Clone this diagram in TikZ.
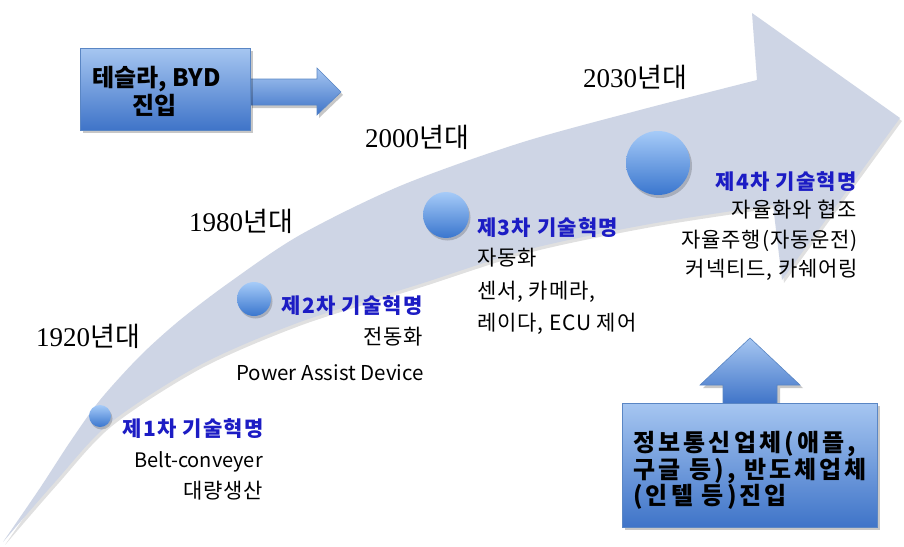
\documentclass[tikz,border=0pt]{standalone}
\usepackage{fontspec}
\setmainfont{Liberation Serif}
\newfontfamily\kr{Noto Sans CJK KR}
\newfontfamily\krh[LetterSpace=6]{Noto Sans CJK KR}
\newfontfamily\krb[LetterSpace=4]{Noto Sans CJK KR}
\newfontfamily\krsp[LetterSpace=13]{Noto Sans CJK KR}
\definecolor{bandc}{HTML}{CED5E5}
\definecolor{headblue}{RGB}{28,28,196}
\definecolor{boxtop}{HTML}{A6C6F1}
\definecolor{boxbot}{HTML}{3F74C8}
\definecolor{boxline}{HTML}{5A86C4}
\definecolor{balltop}{HTML}{A6CBF8}
\definecolor{ballbot}{HTML}{3A76CE}
\tikzset{
  yeartext/.style={anchor=base west, inner sep=0pt, font=\fontsize{27}{30}\selectfont},
  headtext/.style={inner sep=0pt, text=headblue, font=\krh\bfseries\fontsize{21}{24}\selectfont},
  bodytext/.style={inner sep=0pt, text=black, font=\krb\fontsize{21}{24}\selectfont},
  latintext/.style={inner sep=0pt, text=black, font=\kr\fontsize{20}{24}\selectfont},
  boxtext/.style={inner sep=0pt, anchor=base west, font=\krsp\bfseries\fontsize{24}{28}\selectfont},
  boxtexta/.style={inner sep=0pt, anchor=base west, font=\kr\bfseries\fontsize{24}{28}\selectfont},
  ballfill/.style={top color=balltop, bottom color=ballbot},
  ballshadow/.style={fill=black, opacity=0.18},
  bluebox/.style={top color=boxtop, bottom color=boxbot, draw=boxline, line width=0.6pt},
  blueshadow/.style={fill=black, opacity=0.22},
}
\begin{document}
\begin{tikzpicture}[x=1pt,y=-1pt]
\useasboundingbox (0,0) rectangle (904,546);
\fill[white] (0,0) rectangle (904,546);

% big curved arrow (shadow, then band)
\begin{scope}[shift={(2,3)}]
\fill[black, opacity=0.12] plot[smooth] coordinates {(3,542) (40,488) (70,442) (100,400) (140,356) (180,320) (230,282) (300,235) (400,186) (520,143) (640,110) (757,80)}
  -- (752,13) -- (900,118) -- (782,280)
  -- plot[smooth] coordinates {(773,205) (650,224) (530,249) (420,284) (300,322) (200,365) (110,423) (55,482) (3,542)} -- cycle;
\end{scope}
\fill[bandc] plot[smooth] coordinates {(3,542) (40,488) (70,442) (100,400) (140,356) (180,320) (230,282) (300,235) (400,186) (520,143) (640,110) (757,80)}
  -- (752,13) -- (900,118) -- (782,280)
  -- plot[smooth] coordinates {(773,205) (650,224) (530,249) (420,284) (300,322) (200,365) (110,423) (55,482) (3,542)} -- cycle;

% balls
\fill[ballshadow] (101.5,418.5) circle (11);
\shade[ballfill] (100,416) circle (11);
\fill[ballshadow] (255.5,301.5) circle (17);
\shade[ballfill] (254,299) circle (17);
\fill[ballshadow] (447.5,217.5) circle (23);
\shade[ballfill] (446,215) circle (23);
\fill[ballshadow] (660,166) circle (32);
\shade[ballfill] (658,163) circle (32);

% years
\node[yeartext] (y1920) at (36,346) {1920{\kr 년대}};
\node[yeartext] (y1980) at (189,231) {1980{\kr 년대}};
\node[yeartext] (y2000) at (365,147) {2000{\kr 년대}};
\node[yeartext] (y2030) at (583,87) {2030{\kr 년대}};

% revolution 1
\node[headtext, anchor=base east] (h1) at (264,436) {제1차 기술혁명};
\node[latintext, anchor=base east] (h1a) at (263,467) {Belt-conveyer};
\node[bodytext, anchor=base east] (h1b) at (263,498) {대량생산};
% revolution 2
\node[headtext, anchor=base east] (h2) at (423,313) {제2차 기술혁명};
\node[bodytext, anchor=base east] (h2a) at (423,344) {전동화};
\node[latintext, anchor=base east, font=\kr\fontsize{20.5}{24}\selectfont] (h2b) at (424,380) {Power Assist Device};
% revolution 3
\node[headtext, anchor=base west] (h3) at (477,235) {제3차 기술혁명};
\node[bodytext, anchor=base west] (h3a) at (477,265) {자동화};
\node[bodytext, anchor=base west] (h3b) at (477,298) {센서, 카메라,};
\node[bodytext, anchor=base west] (h3c) at (477,330) {레이다, ECU 제어};
% revolution 4
\node[headtext, anchor=base east] (h4) at (857,189) {제4차 기술혁명};
\node[bodytext, anchor=base east] (h4a) at (857,217) {자율화와 협조};
\node[bodytext, anchor=base east] (h4b) at (858,247) {자율주행(자동운전)};
\node[bodytext, anchor=base east] (h4c) at (858,276) {커넥티드, 카쉐어링};

% box 1 with right arrow
\fill[blueshadow] (252,82) -- (319,82) -- (319,71) -- (343,95) -- (319,118) -- (319,108) -- (252,108) -- cycle;
\shade[bluebox] (249,79) -- (317,79) -- (317,68) -- (341,92) -- (317,115) -- (317,105) -- (249,105) -- cycle;
\fill[blueshadow] (83,51) rectangle (253,133);
\shade[bluebox] (80,48) rectangle (250,130);
\node[boxtexta] (b1a) at (92,86) {테슬라, BYD};
\node[boxtexta] (b1b) at (132,114) {진입};

% box 2 with up arrow
\fill[blueshadow] (726,406) -- (726,388) -- (703,388) -- (753,341) -- (803,388) -- (780,388) -- (780,406) -- cycle;
\shade[bluebox] (723,404) -- (723,385) -- (700,385) -- (750,338) -- (800,385) -- (777,385) -- (777,404) -- cycle;
\fill[blueshadow] (625,406) rectangle (880,530);
\shade[bluebox] (622,403) rectangle (877,527);
\node[boxtext] (b2a) at (633,451) {정보통신업체(애플,};
\node[boxtext] (b2b) at (633,478) {구글 등), 반도체업체};
\node[boxtext] (b2c) at (633,504) {(인텔 등)진입};
\end{tikzpicture}
\end{document}
